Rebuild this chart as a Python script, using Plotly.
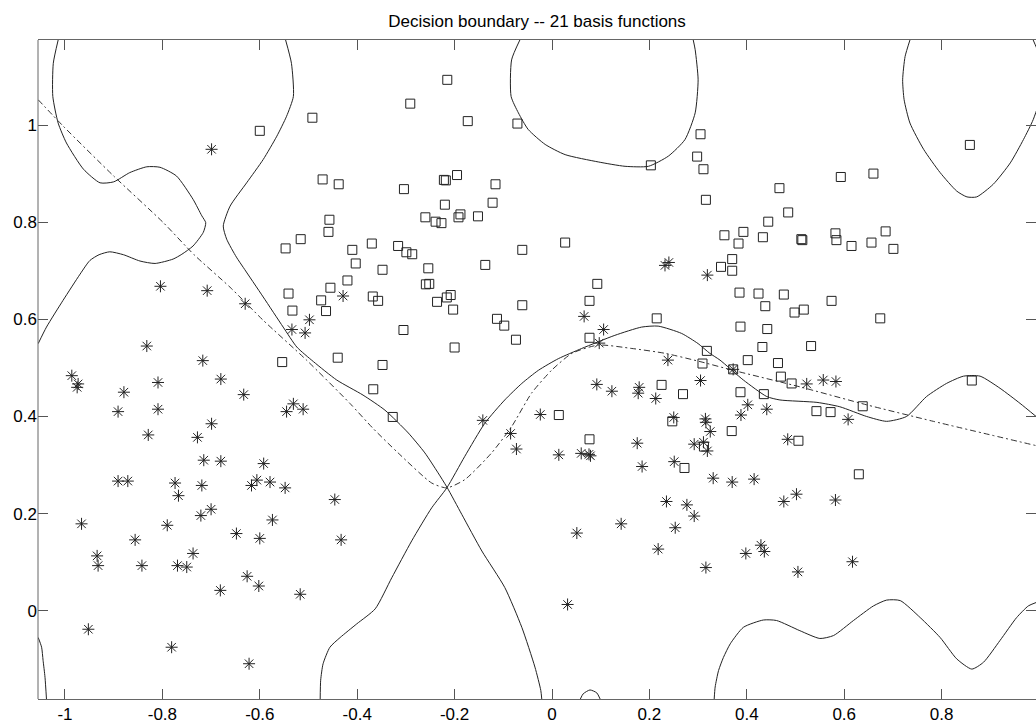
import plotly.graph_objects as go

# ---- training samples -------------------------------------------------
# class 1 (squares)
square_x = [-0.492, -0.600, -0.471, -0.438, -0.457, -0.459, -0.516, -0.547, -0.410, -0.370,
            -0.403, -0.420, -0.455, -0.541, -0.474, -0.533, -0.464, -0.368, -0.554, -0.440, -0.367,
            -0.215, -0.291, -0.173, -0.071, 0.203, 0.305, 0.298, 0.311, 0.316,
            -0.222, -0.218, -0.195, -0.116, -0.304, -0.220, -0.122, -0.260, -0.239, -0.227,
            -0.192, -0.188, -0.152, -0.316, -0.299, -0.287, -0.061, 0.027,
            -0.348, -0.254, -0.137, -0.259, -0.252, -0.357, -0.236, -0.216, -0.208, -0.203,
            -0.061, -0.113, -0.098, -0.074, -0.305, -0.200, -0.348, -0.327,
            0.093, 0.077, 0.077, 0.215, 0.318, 0.309, 0.225, 0.269, 0.014, 0.247, 0.077, 0.272, 0.312,
            0.858, 0.593, 0.660, 0.467, 0.485, 0.444, 0.354, 0.393, 0.383, 0.433, 0.512, 0.514,
            0.582, 0.584, 0.615, 0.656, 0.685, 0.701, 0.370,
            0.347, 0.370, 0.385, 0.424, 0.476, 0.438, 0.574, 0.498, 0.517, 0.674, 0.387, 0.442,
            0.432, 0.532, 0.402, 0.464, 0.372, 0.470, 0.492, 0.387, 0.435, 0.638, 0.543, 0.572,
            0.862, 0.369, 0.506, 0.630]
square_y = [1.015, 0.988, 0.888, 0.878, 0.805, 0.780, 0.765, 0.746, 0.743, 0.756,
            0.715, 0.680, 0.665, 0.653, 0.639, 0.618, 0.617, 0.647, 0.512, 0.521, 0.456,
            1.093, 1.044, 1.008, 1.003, 0.917, 0.981, 0.935, 0.909, 0.846,
            0.887, 0.886, 0.897, 0.878, 0.868, 0.836, 0.840, 0.810, 0.801, 0.798,
            0.810, 0.816, 0.812, 0.751, 0.738, 0.734, 0.743, 0.758,
            0.702, 0.705, 0.712, 0.672, 0.673, 0.638, 0.636, 0.645, 0.650, 0.620,
            0.629, 0.601, 0.587, 0.558, 0.578, 0.542, 0.506, 0.399,
            0.673, 0.638, 0.562, 0.602, 0.535, 0.509, 0.465, 0.446, 0.403, 0.390, 0.353, 0.294, 0.338,
            0.959, 0.893, 0.900, 0.870, 0.820, 0.801, 0.773, 0.780, 0.756, 0.769, 0.765, 0.763,
            0.777, 0.763, 0.751, 0.758, 0.781, 0.745, 0.724,
            0.708, 0.700, 0.655, 0.653, 0.651, 0.627, 0.638, 0.614, 0.620, 0.602, 0.585, 0.580,
            0.543, 0.545, 0.516, 0.510, 0.497, 0.482, 0.468, 0.450, 0.446, 0.421, 0.411, 0.409,
            0.474, 0.370, 0.350, 0.281]

# class 2 (asterisks)
star_x = [-0.699,
          -0.804, -0.708, -0.630, -0.429, -0.498, -0.534, -0.507, -0.832, -0.717, -0.680,
          -0.986, -0.973, -0.975, -0.879, -0.809, -0.633, -0.891, -0.809, -0.531, -0.545,
          -0.511, -0.699, -0.829, -0.728, -0.715, -0.680, -0.592, -0.891, -0.871, -0.774,
          -0.719, -0.617, -0.606, -0.579, -0.548,
          -0.767, -0.700, -0.721, -0.446, -0.574, -0.966, -0.790, -0.648, -0.856, -0.600,
          -0.433, -0.934, -0.737, -0.932, -0.842, -0.769, -0.750, -0.626, -0.602, -0.681,
          -0.517, -0.952, -0.781, -0.622,
          0.232, 0.240, 0.319, 0.066, 0.106, 0.097, 0.238, 0.305, 0.092, 0.123,
          0.179, 0.177, 0.213, 0.250, 0.315, 0.316, 0.325, -0.142, -0.024, -0.085,
          -0.073, 0.014, 0.060, 0.076, 0.079, 0.175, 0.292, 0.311, 0.319, 0.185, 0.251,
          0.372, 0.523, 0.557, 0.583, 0.402, 0.388, 0.441, 0.608, 0.484, 0.331, 0.370, 0.415,
          0.235, 0.277, 0.292, 0.253, 0.142, 0.051, 0.218, 0.316, 0.032,
          0.476, 0.502, 0.582, 0.429, 0.436, 0.398, 0.617, 0.505]
star_y = [0.950,
          0.668, 0.659, 0.632, 0.648, 0.599, 0.579, 0.572, 0.545, 0.515, 0.477,
          0.484, 0.467, 0.460, 0.450, 0.470, 0.445, 0.410, 0.415, 0.426, 0.410,
          0.415, 0.385, 0.362, 0.357, 0.310, 0.308, 0.303, 0.267, 0.267, 0.263,
          0.258, 0.258, 0.269, 0.265, 0.253,
          0.237, 0.209, 0.196, 0.229, 0.187, 0.179, 0.176, 0.159, 0.146, 0.149,
          0.146, 0.113, 0.118, 0.093, 0.093, 0.093, 0.090, 0.071, 0.051, 0.042,
          0.034, -0.038, -0.075, -0.109,
          0.711, 0.717, 0.691, 0.606, 0.579, 0.551, 0.516, 0.474, 0.466, 0.452,
          0.460, 0.448, 0.437, 0.398, 0.395, 0.388, 0.369, 0.392, 0.404, 0.365,
          0.333, 0.321, 0.324, 0.322, 0.319, 0.345, 0.343, 0.347, 0.329, 0.297, 0.307,
          0.497, 0.467, 0.475, 0.472, 0.424, 0.403, 0.415, 0.394, 0.353, 0.273, 0.265, 0.271,
          0.225, 0.218, 0.195, 0.171, 0.179, 0.160, 0.127, 0.089, 0.013,
          0.225, 0.240, 0.228, 0.135, 0.122, 0.118, 0.101, 0.080]

# ---- decision boundary (zero contour), one list of (x, y) per branch ----
boundary_left_lobe = [(-1.014, 1.175), (-1.024, 1.127), (-1.025, 1.059), (-1.014, 1.004),
                      (-0.997, 0.963), (-0.962, 0.909), (-0.928, 0.881), (-0.900, 0.883),
                      (-0.867, 0.902), (-0.832, 0.914), (-0.805, 0.913), (-0.771, 0.895),
                      (-0.737, 0.847), (-0.719, 0.813), (-0.711, 0.799), (-0.716, 0.779),
                      (-0.737, 0.751), (-0.760, 0.734), (-0.778, 0.724), (-0.815, 0.715),
                      (-0.846, 0.720), (-0.880, 0.733), (-0.908, 0.739), (-0.930, 0.733),
                      (-0.949, 0.721), (-0.969, 0.693), (-1.004, 0.639), (-1.038, 0.584),
                      (-1.055, 0.550)]
boundary_down_right = [(-0.547, 1.175), (-0.535, 1.127), (-0.531, 1.059), (-0.545, 1.018),
                       (-0.565, 0.977), (-0.593, 0.929), (-0.627, 0.881), (-0.661, 0.833),
                       (-0.675, 0.792), (-0.668, 0.765), (-0.648, 0.728), (-0.634, 0.707),
                       (-0.593, 0.646), (-0.552, 0.584), (-0.524, 0.543), (-0.490, 0.513),
                       (-0.442, 0.475), (-0.388, 0.444), (-0.343, 0.413), (-0.295, 0.366),
                       (-0.261, 0.325), (-0.234, 0.284), (-0.216, 0.255), (-0.185, 0.198),
                       (-0.144, 0.123), (-0.097, 0.048), (-0.062, -0.034), (-0.035, -0.116),
                       (-0.023, -0.164), (-0.021, -0.182)]
boundary_up_right = [(-0.476, -0.182), (-0.475, -0.143), (-0.470, -0.109), (-0.456, -0.075),
                     (-0.435, -0.055), (-0.401, -0.027), (-0.363, 0.004), (-0.329, 0.068),
                     (-0.288, 0.144), (-0.247, 0.212), (-0.216, 0.253), (-0.179, 0.318),
                     (-0.138, 0.386), (-0.097, 0.434), (-0.062, 0.468), (-0.028, 0.495),
                     (0.013, 0.519), (0.061, 0.540), (0.129, 0.567), (0.184, 0.584),
                     (0.218, 0.586), (0.266, 0.571), (0.300, 0.550), (0.324, 0.530),
                     (0.345, 0.516), (0.393, 0.475), (0.441, 0.441), (0.468, 0.434),
                     (0.544, 0.429), (0.591, 0.420), (0.646, 0.400), (0.687, 0.390),
                     (0.728, 0.400), (0.769, 0.441), (0.810, 0.468), (0.845, 0.483),
                     (0.879, 0.483), (0.920, 0.458), (0.961, 0.427), (0.994, 0.400)]
boundary_top_middle = [(-0.066, 1.175), (-0.083, 1.134), (-0.084, 1.059), (-0.069, 1.025),
                       (-0.049, 0.991), (-0.014, 0.960), (0.027, 0.939), (0.095, 0.924),
                       (0.150, 0.915), (0.198, 0.915), (0.239, 0.936), (0.273, 0.970),
                       (0.294, 1.025), (0.300, 1.093), (0.294, 1.155), (0.290, 1.175)]
boundary_top_right = [(0.735, 1.175), (0.725, 1.141), (0.720, 1.093), (0.723, 1.052),
                      (0.735, 1.004), (0.763, 0.950), (0.797, 0.902), (0.831, 0.864),
                      (0.852, 0.852), (0.872, 0.852), (0.906, 0.878), (0.941, 0.922),
                      (0.968, 0.970), (0.988, 1.011), (1.010, 1.080), (1.010, 1.120),
                      (0.994, 1.161), (0.988, 1.175)]
boundary_corner = [(-1.055, -0.055), (-1.048, -0.075), (-1.045, -0.102), (-1.041, -0.137),
                   (-1.038, -0.182)]
boundary_bump = [(0.058, -0.182), (0.064, -0.171), (0.078, -0.163), (0.092, -0.169),
                 (0.099, -0.182)]
boundary_bottom_wave = [(0.333, -0.182), (0.335, -0.157), (0.342, -0.123), (0.352, -0.096),
                        (0.366, -0.068), (0.393, -0.034), (0.434, -0.019), (0.461, -0.020),
                        (0.509, -0.041), (0.550, -0.057), (0.578, -0.051), (0.619, -0.020),
                        (0.660, 0.010), (0.687, 0.022), (0.715, 0.021), (0.756, -0.014),
                        (0.797, -0.055), (0.831, -0.099), (0.862, -0.120), (0.886, -0.106),
                        (0.920, -0.061), (0.954, -0.014), (0.978, 0.010), (0.994, 0.017)]

boundary_branches = [boundary_left_lobe, boundary_down_right, boundary_up_right,
                     boundary_top_middle, boundary_top_right, boundary_corner,
                     boundary_bump, boundary_bottom_wave]

# ---- optimal (Bayes) boundary, dash-dot ----
bayes_boundary = [(-1.055, 1.052), (-1.003, 0.997), (-0.900, 0.895), (-0.798, 0.799),
                  (-0.735, 0.733), (-0.661, 0.666), (-0.593, 0.598), (-0.504, 0.516),
                  (-0.415, 0.427), (-0.367, 0.375), (-0.316, 0.325), (-0.247, 0.263),
                  (-0.216, 0.253), (-0.179, 0.270), (-0.124, 0.325), (-0.083, 0.379),
                  (-0.042, 0.448), (-0.001, 0.495), (0.041, 0.530), (0.095, 0.547),
                  (0.164, 0.540), (0.232, 0.530), (0.304, 0.513), (0.372, 0.495),
                  (0.509, 0.461), (0.646, 0.424), (0.783, 0.390), (0.994, 0.340)]

x_ticks = [-1, -0.8, -0.6, -0.4, -0.2, 0, 0.2, 0.4, 0.6, 0.8]
x_tick_text = ["-1", "-0.8", "-0.6", "-0.4", "-0.2", "0", "0.2", "0.4", "0.6", "0.8"]
y_ticks = [0, 0.2, 0.4, 0.6, 0.8, 1]
y_tick_text = ["0", "0.2", "0.4", "0.6", "0.8", "1"]

FONT = "Liberation Sans, Arial, Helvetica, sans-serif"

fig = go.Figure()

for branch in boundary_branches:
    fig.add_trace(go.Scatter(
        x=[p[0] for p in branch], y=[p[1] for p in branch],
        mode="lines", line=dict(color="#222222", width=1, shape="spline", smoothing=0.6),
        hoverinfo="skip", showlegend=False))

fig.add_trace(go.Scatter(
    x=[p[0] for p in bayes_boundary], y=[p[1] for p in bayes_boundary],
    mode="lines", line=dict(color="#333333", width=1, dash="6px,3px,2px,3px",
                            shape="spline", smoothing=0.6),
    hoverinfo="skip", showlegend=False))

fig.add_trace(go.Scatter(
    x=square_x, y=square_y, mode="markers",
    marker=dict(symbol="square-open", size=9, color="#222222", line=dict(width=1)),
    showlegend=False))

fig.add_trace(go.Scatter(
    x=star_x, y=star_y, mode="markers",
    marker=dict(symbol="asterisk-open", size=10, color="#222222", line=dict(width=1, color="#222222")),
    showlegend=False))

fig.update_layout(
    width=1036, height=724,
    margin=dict(l=38, r=0, t=40, b=22),
    paper_bgcolor="white", plot_bgcolor="white",
    title=dict(text="Decision boundary -- 21 basis functions",
               x=0.5, xref="paper", xanchor="center",
               y=1 - 21 / 724, yref="container", yanchor="middle",
               font=dict(family=FONT, size=17, color="black")),
    font=dict(family=FONT, size=17, color="black"),
    # left axis line only; the right side of the box falls just outside the frame
    shapes=[dict(type="line", xref="paper", yref="paper", x0=0, x1=0, y0=0, y1=1,
                 line=dict(color="#666666", width=1))],
)

fig.update_xaxes(
    range=[-1.0554, 0.9938], showgrid=False, zeroline=False,
    showline=True, linecolor="#666666", linewidth=1, mirror="allticks",
    ticks="inside", ticklen=10, tickcolor="#555555", tickwidth=1,
    tickvals=x_ticks, ticktext=x_tick_text,
    tickfont=dict(family=FONT, size=17, color="black"))

fig.update_yaxes(
    range=[-0.1816, 1.175], showgrid=False, zeroline=False,
    showline=False, mirror="allticks",
    ticks="inside", ticklen=10, tickcolor="#555555", tickwidth=1,
    tickvals=y_ticks, ticktext=y_tick_text,
    tickfont=dict(family=FONT, size=17, color="black"))

fig.write_html("out.html")
